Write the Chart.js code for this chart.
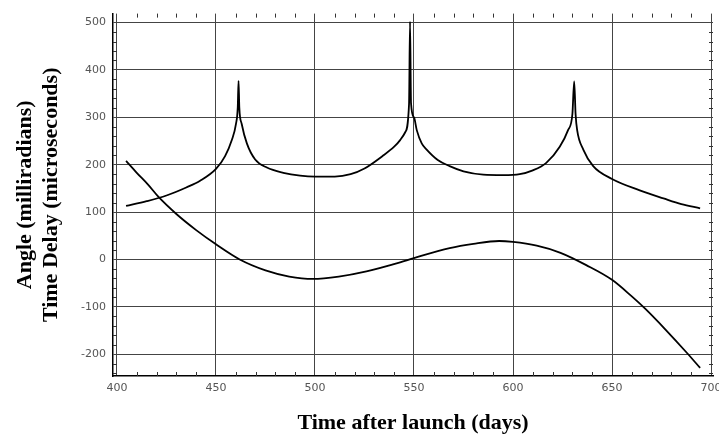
<!DOCTYPE html>
<html>
<head>
<meta charset="utf-8">
<script src="https://cdn.jsdelivr.net/npm/chart.js@4/dist/chart.umd.min.js"></script>
<style>
  html, body { margin: 0; padding: 0; background: #fff; overflow: hidden; }
  #wrap { width: 730px; height: 443px; }
</style>
</head>
<body>
<div id="wrap"><canvas id="grafico"></canvas></div>
<script>
// time delay curve (with the spikes)
const tempoDelay = [404.6, 415, 425, 435, 442, 450, 454.6, 458, 460.1, 461, 461.4, 461.8, 463, 465.6, 469.8, 475.7, 484, 492.5, 500, 510, 518, 525, 534, 540, 543, 545.5, 547.5, 548, 548.5, 550, 551.4, 553.9, 556.4, 562, 568, 575, 585, 595, 603.4, 610, 616.8, 623.6, 627.8, 630, 630.9, 631.6, 632.4, 635.5, 640.5, 650, 664, 676, 685, 694.5];
const valoresDelay = [113, 123, 135, 152, 166, 191, 218, 252, 286, 321, 377, 320, 286, 245, 211, 194, 183, 177, 175, 175, 180, 192, 218, 238, 252, 268, 328, 502, 330, 300, 273, 245, 232, 210, 197, 186, 179, 178, 180, 188, 204, 238, 273, 307, 376, 307, 273, 232, 197, 170, 146, 129, 117, 108];

// angle curve (smooth)
const tempoAngulo = [404.6, 410, 415.7, 421, 430, 440, 450, 462, 475, 487, 499, 512, 526, 543, 550, 568, 580, 593, 600, 612, 624, 637, 650, 660, 667, 677, 688, 694.5];
const valoresAngulo = [208, 183, 158, 132, 96, 62, 32, 0, -23, -36, -41, -36, -25, -6, 3, 24, 33, 39, 37, 29, 14, -12, -43, -78, -105, -148, -198, -229];

const ticksX = [400, 450, 500, 550, 600, 650, 700];
const ticksY = [-200, -100, 0, 100, 200, 300, 400, 500];

const pontos = (xs, ys) => xs.map((x, i) => ({ x, y: ys[i] }));

// small inward ticks on all four sides, like the original frame
const marcasMenores = {
  id: 'marcasMenores',
  afterDraw(chart) {
    const { ctx, chartArea: a, scales: { x, y } } = chart;
    ctx.save();
    ctx.strokeStyle = '#333';
    ctx.lineWidth = 1;
    ctx.beginPath();
    for (let v = 400; v <= 700; v += 10) {
      if (v % 50 === 0) continue;
      const px = Math.round(x.getPixelForValue(v)) + 0.5;
      ctx.moveTo(px, a.bottom); ctx.lineTo(px, a.bottom - 4);
      ctx.moveTo(px, a.top); ctx.lineTo(px, a.top + 4);
    }
    for (let v = -240; v <= 500; v += 20) {
      if (v % 100 === 0) continue;
      const py = Math.round(y.getPixelForValue(v)) + 0.5;
      ctx.moveTo(a.left, py); ctx.lineTo(a.left + 4, py);
      ctx.moveTo(a.right, py); ctx.lineTo(a.right - 4, py);
    }
    ctx.stroke();
    ctx.restore();
  }
};

const ctx = document.getElementById('grafico').getContext('2d');
const grafico = new Chart(ctx, {
  type: 'line',
  data: {
    datasets: [{
      label: 'Time Delay',
      data: pontos(tempoDelay, valoresDelay),
      borderColor: '#000',
      borderWidth: 1.8,
      pointRadius: 0,
      fill: false,
      cubicInterpolationMode: 'monotone'
    }, {
      label: 'Angle',
      data: pontos(tempoAngulo, valoresAngulo),
      borderColor: '#000',
      borderWidth: 1.8,
      pointRadius: 0,
      fill: false,
      cubicInterpolationMode: 'monotone'
    }]
  },
  options: {
    responsive: true,
    maintainAspectRatio: false,
    animation: false,
    layout: { padding: { top: 4, right: 17, left: 0, bottom: 0 } },
    plugins: {
      legend: { display: false },
      tooltip: { enabled: false }
    },
    scales: {
      x: {
        type: 'linear',
        min: 398,
        max: 701,
        afterBuildTicks: s => { s.ticks = ticksX.map(v => ({ value: v })); },
        afterFit: s => { s.height = 443 - 376; },
        grid: { color: '#444', lineWidth: 1, drawTicks: false },
        border: { color: '#000', width: 1.5 },
        ticks: {
          color: '#555',
          padding: 6,
          maxRotation: 0,
          font: { family: 'DejaVu Sans', size: 11 }
        },
        title: {
          display: true,
          text: 'Time after launch (days)',
          color: '#000',
          padding: { top: 0, bottom: 6 },
          font: { family: 'Liberation Serif', size: 22, weight: 'bold' }
        }
      },
      y: {
        min: -246,
        max: 519,
        afterBuildTicks: s => { s.ticks = ticksY.map(v => ({ value: v })); },
        afterFit: s => { s.width = 113; },
        grid: { color: '#444', lineWidth: 1, drawTicks: false },
        border: { color: '#000', width: 1.5 },
        ticks: {
          color: '#555',
          padding: 7,
          font: { family: 'DejaVu Sans', size: 11 }
        },
        title: {
          display: true,
          text: ['Angle (milliradians)', 'Time Delay (microseconds)'],
          color: '#000',
          padding: { top: 12, bottom: 0 },
          font: { family: 'Liberation Serif', size: 22, weight: 'bold', lineHeight: 1.18 }
        }
      }
    }
  },
  plugins: [marcasMenores]
});
</script>
</body>
</html>
